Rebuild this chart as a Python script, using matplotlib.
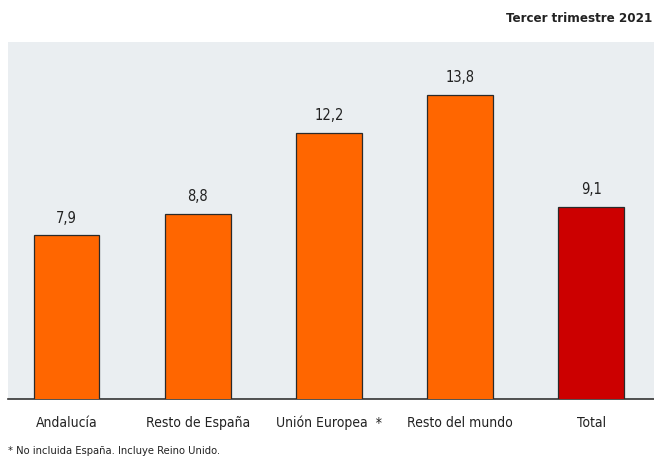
import matplotlib.pyplot as plt

# Data
categories = ["Andalucía", "Resto de España", "Unión Europea  *", "Resto del mundo", "Total"]
values = [7.9, 8.8, 12.2, 13.8, 9.1]
value_labels = ["7,9", "8,8", "12,2", "13,8", "9,1"]
bar_colors = ["#ff6600", "#ff6600", "#ff6600", "#ff6600", "#cc0000"]

plt.rcParams['font.family'] = ['DejaVu Sans']
txt = dict(fontstretch='condensed', color='#222222')

fig = plt.figure(figsize=(6.54, 4.59), dpi=100)
ax = fig.add_axes([8/654, 60/459, 646/654, 357/459])
ax.set_facecolor("#eaeef1")

x = range(len(categories))
bars = ax.bar(x, values, width=0.5, color=bar_colors, edgecolor="#2a2a2a", linewidth=0.9, zorder=3)

ax.set_ylim(1.04, 16)
ax.set_xlim(-0.447, 4.48)

# value labels on top of bars
for bar, lab in zip(bars, value_labels):
    ax.annotate(lab, (bar.get_x() + bar.get_width() / 2, bar.get_height()),
                xytext=(0, 7), textcoords="offset points", ha="center", va="bottom",
                fontsize=10.5, **txt)

ax.set_xticks(list(x))
ax.set_xticklabels(categories, fontsize=10, fontstretch='condensed', color='#222222')
ax.tick_params(axis='x', length=0, pad=12)
ax.set_yticks([])

for side in ["top", "right", "left"]:
    ax.spines[side].set_visible(False)
ax.spines["bottom"].set_color("#333333")
ax.spines["bottom"].set_linewidth(1.2)

fig.text(0.997, 1 - 18/459, "Tercer trimestre 2021", ha="right", va="center",
         fontsize=9.5, fontweight="bold", **txt)
fig.text(0.012, 1 - 451/459, "* No incluida España. Incluye Reino Unido.", ha="left", va="center",
         fontsize=8, **txt)

plt.savefig("out.png", dpi=100)
